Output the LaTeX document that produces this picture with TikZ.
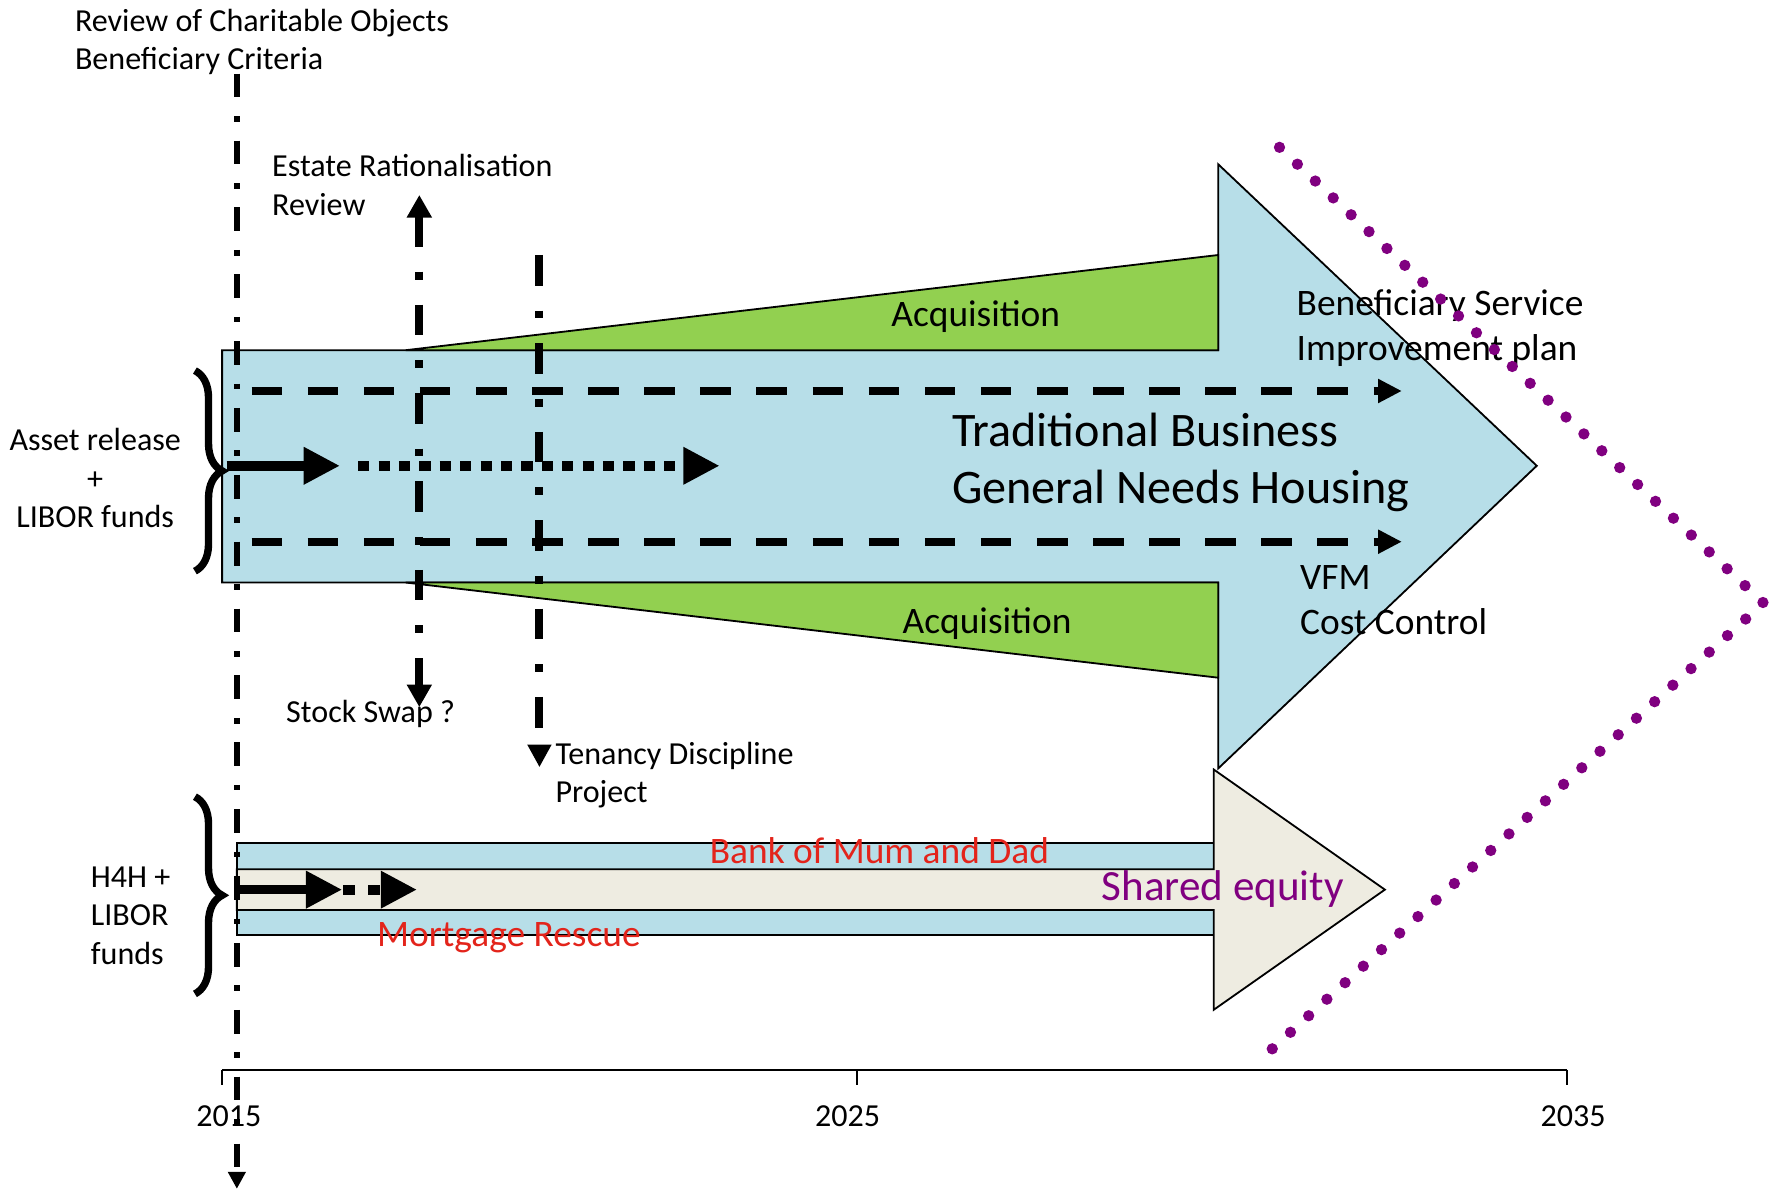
\documentclass[tikz,border=0pt]{standalone}
\usepackage{fontspec}
\setmainfont{Carlito}
\usetikzlibrary{arrows.meta,decorations.pathreplacing}
\definecolor{aquab}{HTML}{B7DEE8}
\definecolor{leaf}{HTML}{92D050}
\definecolor{beige}{HTML}{EEECE1}
\definecolor{plum}{HTML}{800080}
\definecolor{redtxt}{HTML}{E3241B}

\begin{document}
\begin{tikzpicture}[x=1pt,y=-1pt,
    txt/.style={inner sep=0pt,align=left,yshift=-2pt,font=\fontsize{28.3}{34}\selectfont},
    midtxt/.style={inner sep=0pt,align=left,yshift=-2.5pt,font=\fontsize{33}{40}\selectfont},
    bigtxt/.style={inner sep=0pt,align=left,yshift=-3pt,font=\fontsize{42.5}{51}\selectfont},
    outline/.style={draw=black,line width=1.6pt},
    dotdash/.style={line width=7pt,dash pattern=on 27pt off 22pt on 7pt off 22pt},
    thindotdash/.style={line width=5.5pt,dash pattern=on 21pt off 16.5pt on 5pt off 16.5pt},
    smalltip/.style={-{Triangle[length=20pt,width=20pt]}},
    flowdash/.style={line width=7pt,dash pattern=on 27pt off 22.5pt,-{Triangle[length=21pt,width=20pt]}},
    squares/.style={line width=9pt,dash pattern=on 10pt off 8pt},
    fattip/.style={line width=9pt,-{Triangle[length=32pt,width=31pt]}},
    curly/.style={decorate,decoration={brace,amplitude=24pt},line width=6.5pt},
  ]
  \useasboundingbox (0,0) rectangle (1568,1052.7);

  % traditional business
  \draw[outline,fill=aquab] (196,309) -- (1075,309) -- (1075,145) -- (1356,411)
    -- (1075,678) -- (1075,514) -- (196,514) -- cycle;
  \draw[outline,fill=leaf] (358,309) -- (1075,225) -- (1075,309) -- cycle;
  \draw[outline,fill=leaf] (358,514) -- (1075,598) -- (1075,514) -- cycle;

  % shared equity
  \draw[outline,fill=aquab] (209,744) rectangle (1071,825);
  \draw[outline,fill=beige] (209,767) -- (1071,767) -- (1071,679) -- (1222,785)
    -- (1071,891) -- (1071,803) -- (209,803) -- cycle;

  % timeline
  \draw[line width=2pt] (196,944) -- (1383,944);
  \foreach \t/\lx/\yr in {196/202/2015,756/748/2025,1383/1388/2035} {
    \draw[line width=2pt] (\t,944) -- (\t,957);
    \node[txt,yshift=2pt] (yr\yr) at (\lx,985) {\yr};
  }

  % labels
  \node[txt,anchor=west] (review) at (66,35) {Review of Charitable Objects\\Beneficiary Criteria};
  \node[txt,anchor=west] (estate) at (240,161) {Estate Rationalisation\\Review};
  \node[txt] (swap) at (327,628) {Stock Swap ?};
  \node[txt,anchor=west] (tenancy) at (490,682) {Tenancy Discipline\\Project};
  \node[txt,align=center] (asset) at (84,420) {Asset release\\+\\LIBOR funds};
  \node[txt,anchor=west] (hforh) at (80,806) {H4H +\\LIBOR\\funds};
  \node[midtxt] (acqtop) at (861,277) {Acquisition};
  \node[midtxt] (acqbot) at (871,548) {Acquisition};
  \node[bigtxt,anchor=west] (trad) at (840,405) {Traditional Business\\General Needs Housing};
  \node[midtxt,anchor=west] (benef) at (1144,287) {Beneficiary Service\\Improvement plan};
  \node[midtxt,anchor=west] (vfm) at (1147,527) {VFM\\Cost Control};
  \node[midtxt,text=redtxt] (bank) at (776,748) {Bank of Mum and Dad};
  \node[midtxt,text=redtxt] (rescue) at (449,825) {Mortgage Rescue};
  \node[inner sep=0pt,yshift=-2.5pt,font=\fontsize{38}{40}\selectfont,text=plum] (equity) at (1079,782) {Shared equity};

  % flows through the business
  \coordinate (topA) at (222,345);
  \coordinate (topB) at (1237,345);
  \coordinate (botA) at (222,478);
  \coordinate (botB) at (1237,478);
  \draw[flowdash] (topA) -- (topB);
  \draw[flowdash] (botA) -- (botB);

  \coordinate (fundA) at (200,411);
  \coordinate (fundB) at (300,411);
  \coordinate (fundC) at (316,411);
  \coordinate (fundD) at (635,411);
  \draw[fattip] (fundA) -- (fundB);
  \draw[fattip,squares] (fundC) -- (fundD);

  \coordinate (homeA) at (209,785);
  \coordinate (homeB) at (302,785);
  \coordinate (homeC) at (303,785);
  \coordinate (homeD) at (368,785);
  \draw[fattip,line width=8pt] (homeA) -- (homeB);
  \draw[fattip,line width=9pt,dash pattern=on 10pt off 12pt] (homeC) -- (homeD);

  % milestones
  \coordinate (revTop) at (209,65);
  \coordinate (revBot) at (209,1049);
  \draw[thindotdash,-{Triangle[length=15pt,width=15pt]}] (revTop) -- (revBot);
  \coordinate (estTop) at (370,172);
  \coordinate (estBot) at (370,624);
  \draw[dotdash,{Triangle[length=20pt,width=21pt]}-{Triangle[length=20pt,width=21pt]}] (estTop) -- (estBot);
  \coordinate (tenTop) at (476,225);
  \coordinate (tenBot) at (476,677);
  \draw[dotdash,smalltip] (tenTop) -- (tenBot);

  % braces
  \draw[curly] (172,327) -- (172,504);
  \draw[curly] (172,703) -- (172,877);

  % horizon
  \coordinate (horA) at (1129,130);
  \coordinate (horB) at (1556,532);
  \coordinate (horC) at (1122,926);
  \draw[plum,line width=10pt,line cap=round,dash pattern=on 0pt off 21.70pt] (horA) -- (horB) -- (horC);
\end{tikzpicture}
\end{document}
